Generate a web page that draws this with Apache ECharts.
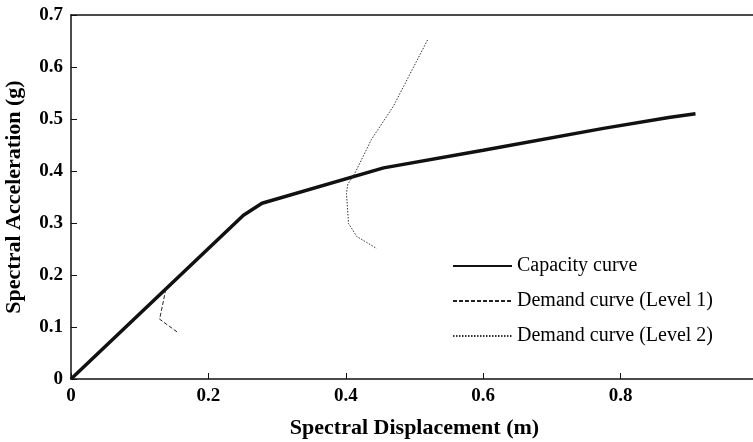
<!DOCTYPE html>
<html><head><meta charset="utf-8">
<script src="https://cdn.jsdelivr.net/npm/echarts@6/dist/echarts.min.js"></script>
<style>html,body{margin:0;padding:0;background:#fff}#c{width:753px;height:442px}</style>
</head><body><div id="c"></div>
<script>
var capacityX = [0, 0.251, 0.278, 0.455, 0.6, 0.775, 0.87, 0.909];
var capacityY = [0, 0.315, 0.338, 0.406, 0.44, 0.482, 0.503, 0.510];
var demand1X = [0.138, 0.129, 0.155];
var demand1Y = [0.1725, 0.115, 0.090];
var demand2X = [0.519, 0.469, 0.437, 0.413, 0.403, 0.401, 0.404, 0.416, 0.445];
var demand2Y = [0.652, 0.524, 0.46, 0.395, 0.375, 0.357, 0.299, 0.274, 0.251];
var seriesNames = ['Capacity curve', 'Demand curve (Level 1)', 'Demand curve (Level 2)'];
var xTitle = 'Spectral Displacement (m)';
var yTitle = 'Spectral Acceleration (g)';

function pairs(xs, ys){ return xs.map(function(x,i){return [x, ys[i]];}); }
var serif = '"Liberation Serif","DejaVu Serif",serif';
var chart = echarts.init(document.getElementById('c'));
chart.setOption({
  animation: false,
  grid: {left: 71, top: 15, width: 687, height: 364, containLabel: false, outerBoundsMode: 'none'},
  legend: {
    orient: 'vertical', left: 452, top: 256, padding: 0, itemWidth: 59, itemHeight: 12, itemGap: 15,
    textStyle: {fontFamily: serif, fontSize: 20, color: '#000'},
    itemStyle: {opacity: 0},
    data: seriesNames
  },
  xAxis: [{
    type: 'value', min: 0, max: 1, interval: 0.2,
    name: xTitle, nameLocation: 'middle', nameGap: 38,
    nameTextStyle: {fontFamily: serif, fontSize: 22, fontWeight: 'bold', color: '#000'},
    axisLine: {lineStyle: {color: '#111', width: 1.5}},
    axisTick: {inside: true, length: 6, lineStyle: {color: '#111'}},
    axisLabel: {fontFamily: serif, fontSize: 19, fontWeight: 'bold', color: '#000', margin: 8,
      showMaxLabel: true, hideOverlap: false,
      formatter: function(v){return String(+v.toFixed(1));}},
    splitLine: {show: false}
  }, {
    type: 'value', position: 'top', min: 0, max: 1,
    axisLine: {show: true, lineStyle: {color: '#111', width: 1.5}},
    axisTick: {show: false}, axisLabel: {show: false}, splitLine: {show: false}
  }],
  yAxis: {
    type: 'value', min: 0, max: 0.7, interval: 0.1,
    name: yTitle, nameLocation: 'middle', nameGap: 46,
    nameTextStyle: {fontFamily: serif, fontSize: 22, fontWeight: 'bold', color: '#000'},
    axisLine: {show: true, lineStyle: {color: '#111', width: 1.5}},
    axisTick: {show: true, inside: true, length: 6, lineStyle: {color: '#111'}},
    axisLabel: {fontFamily: serif, fontSize: 19, fontWeight: 'bold', color: '#000', margin: 8,
      formatter: function(v){return String(+v.toFixed(1));}},
    splitLine: {show: false}
  },
  series: [{
    name: seriesNames[0], type: 'line', data: pairs(capacityX, capacityY),
    symbol: 'none', lineStyle: {color: '#111', width: 3.5}, itemStyle: {color: '#111'}
  }, {
    name: seriesNames[1], type: 'line', data: pairs(demand1X, demand1Y),
    symbol: 'none', lineStyle: {color: '#222', width: 1, type: [4, 2]}, itemStyle: {color: '#222'}
  }, {
    name: seriesNames[2], type: 'line', data: pairs(demand2X, demand2Y),
    symbol: 'none', lineStyle: {color: '#333', width: 1, type: [1.5, 1.5]}, itemStyle: {color: '#333'}
  }]
});
</script></body></html>
